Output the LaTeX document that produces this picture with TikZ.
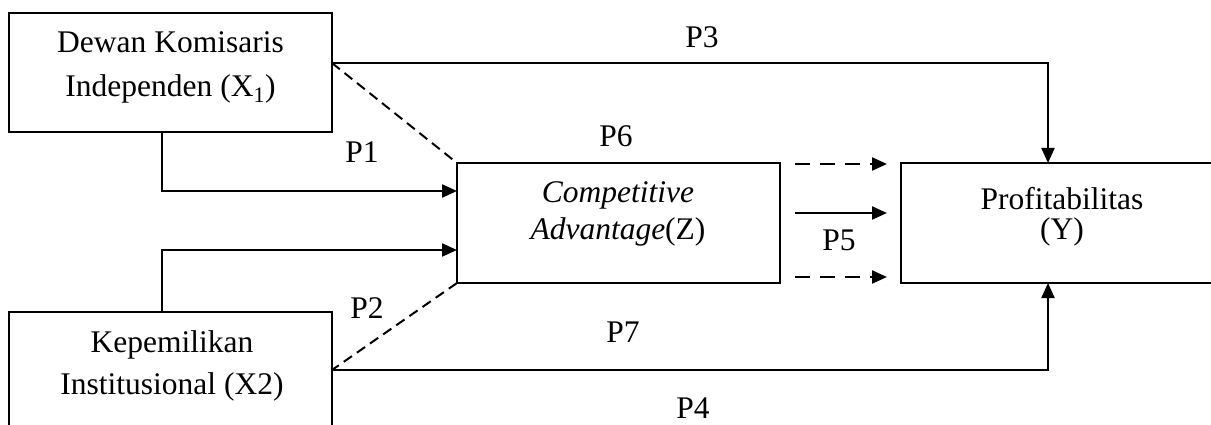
\documentclass[tikz,border=0pt]{standalone}
\usepackage{fontspec}
\setmainfont{Liberation Serif}
\usetikzlibrary{arrows.meta,calc}
\tikzset{
  box/.style={draw, line width=2pt, rectangle, inner sep=0pt, outer sep=0pt, anchor=north west},
  txt/.style={inner sep=0pt, outer sep=0pt, align=center, anchor=base},
  lbl/.style={inner sep=0pt, outer sep=0pt, anchor=base, font=\fontsize{31.5}{36}\selectfont},
  arr/.style={line width=2.2pt, -{Triangle[length=15pt,width=13pt]}},
  darr/.style={line width=2.2pt, dash pattern=on 15pt off 10pt, -{Triangle[length=15pt,width=13pt]}},
  dsh/.style={line width=2pt, dash pattern=on 10pt off 6pt},
}
\begin{document}
\begin{tikzpicture}[x=1pt,y=-1pt]
\useasboundingbox (0,0) rectangle (1211,425);
\clip (0,0) rectangle (1211,425);
\fill[white] (0,0) rectangle (1211,425);
% boxes
\node[box, minimum width=323pt, minimum height=119pt] (x1) at (9,13) {};
\node[box, minimum width=323pt, minimum height=150pt] (x2) at (9,312) {};
\node[box, minimum width=323pt, minimum height=120pt] (z) at (457,163) {};
\node[box, minimum width=323pt, minimum height=120pt] (y) at (901,163) {};
% box texts (anchor base = baseline of last line)
\node[txt, font=\fontsize{31.5}{44}\selectfont] (tx1) at (170.5,97) {Dewan Komisaris\\Independen (X\textsubscript{1})};
\node[txt, font=\fontsize{31.5}{42}\selectfont] (tx2) at (172,394) {Kepemilikan\\Institusional (X2)};
\node[txt, font=\fontsize{31.5}{37}\selectfont] (tz) at (618,240) {\textit{Competitive}\\\textit{Advantage}(Z)};
\node[txt, font=\fontsize{31.5}{31}\selectfont] (ty) at (1062,240) {Profitabilitas\\(Y)};
% helper coordinates
\coordinate (kx) at (162,0);
\coordinate (ky) at (1048,0);
\coordinate (h3) at (0,63);
\coordinate (h1) at (0,191);
\coordinate (h2) at (0,250);
\coordinate (h4) at (0,370);
\coordinate (ha) at (0,164);
\coordinate (hb) at (0,213);
\coordinate (hc) at (0,277);
% solid connectors
\draw[arr] (x1.east |- h3) -| (y.north -| ky);
\draw[arr] (x1.south -| kx) |- (z.west |- h1);
\draw[arr] (x2.north -| kx) |- (z.west |- h2);
\draw[arr] (x2.east |- h4) -| (y.south -| ky);
% dashed diagonals
\draw[dsh] (x1.east |- h3) -- (z.north west);
\draw[dsh] (z.south west) -- (x2.east |- h4);
% Z -> Y arrows
\coordinate (za) at ($(z.east |- ha)+(15,0)$);
\coordinate (zb) at ($(z.east |- hb)+(15,0)$);
\coordinate (zc) at ($(z.east |- hc)+(15,0)$);
\coordinate (ya) at ($(y.west |- ha)+(-14,0)$);
\coordinate (yb) at ($(y.west |- hb)+(-14,0)$);
\coordinate (yc) at ($(y.west |- hc)+(-14,0)$);
\draw[darr] (za) -- (ya);
\draw[arr] (zb) -- (yb);
\draw[darr] (zc) -- (yc);
% labels
\node[lbl] (p3) at (702,48) {P3};
\node[lbl] (p6) at (616,147) {P6};
\node[lbl] (p1) at (362,163) {P1};
\node[lbl] (p2) at (367,318) {P2};
\node[lbl] (p5) at (839,250) {P5};
\node[lbl] (p7) at (623,342) {P7};
\node[lbl] (p4) at (693,418) {P4};
\end{tikzpicture}
\end{document}
